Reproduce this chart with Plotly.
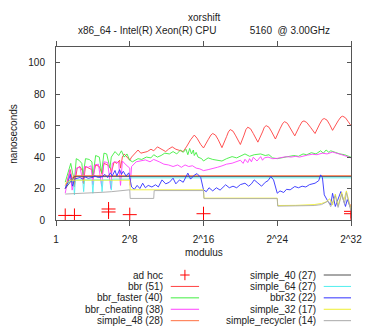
import plotly.graph_objects as go

# x values are log2(modulus): 0 -> 1, 32 -> 2^32
TICK_POS = [0, 8, 16, 24, 32]
TICK_TEXT = ["1", "2^8", "2^16", "2^24", "2^32"]
Y_TICKS = [0, 20, 40, 60, 80, 100]

adhoc_x = [1.0, 2.0, 5.7, 5.7, 8.0, 16.0, 32.0, 32.0]
adhoc_y = [2.9, 2.9, 7.0, 5.1, 3.4, 4.0, 5.5, 4.0]

bbr_x = [1.0, 1.3, 1.55, 1.8, 2.0, 2.3, 2.6, 2.9, 3.0, 3.2, 3.6, 3.9, 4.0, 4.3, 4.7, 5.0,
         5.2, 5.6, 5.9, 6.0, 6.3, 6.6, 6.9, 7.0, 7.2, 7.4, 7.7, 8.0, 8.2, 8.5, 8.9, 9.2,
         9.5, 9.9, 10.3, 10.6, 11.0, 11.4, 11.9, 12.2, 12.6, 13.0, 13.3, 13.8, 14.2, 14.6,
         15.0, 15.3, 15.7, 16.0, 16.5, 16.8, 17.0, 17.3, 17.6, 18.0, 18.5, 18.7, 18.9, 19.2,
         19.5, 20.0, 20.4, 20.6, 20.8, 21.1, 21.4, 21.9, 22.4, 22.6, 22.8, 23.1, 23.4, 23.8,
         24.3, 24.6, 24.8, 25.1, 25.4, 25.9, 26.4, 26.7, 26.9, 27.2, 27.6, 28.1, 28.6, 28.9,
         29.1, 29.4, 29.7, 30.0, 30.6, 30.9, 31.1, 31.4, 31.7, 32.0]
bbr_y = [20, 26, 32, 24, 22, 33, 34, 31, 25, 34, 33, 32, 27, 35, 34, 29,
         36, 35, 33, 30, 37, 36, 38, 33, 40, 42, 40, 38, 40, 42, 44.5, 42.5,
         43, 43.5, 45, 44, 46.5, 45, 43.5, 45, 46.5, 45, 44.5, 43.5, 47, 51,
         54, 52, 48, 45.8, 51, 54, 55, 54, 51, 46, 53, 56, 57.5, 56.5,
         53.5, 48, 54, 57.5, 59, 58, 55, 49.5, 56, 59, 60, 59, 56, 51.5,
         58, 61.5, 62.5, 61.5, 58.5, 53.5, 59.5, 62.5, 63, 62, 59, 55, 61, 64,
         64.5, 63.5, 60.5, 57, 63, 65.5, 66, 65, 62.5, 60]

faster_x = [1.0, 1.3, 1.6, 1.8, 2.0, 2.2, 2.5, 2.8, 2.95, 3.2, 3.6, 3.9, 4.0, 4.3, 4.7,
            4.95, 5.2, 5.5, 5.85, 6.0, 6.4, 6.8, 7.1, 7.4, 7.7, 8.0, 8.3, 8.9, 9.3, 9.8,
            10.3, 10.6, 11.0, 11.4, 11.8, 12.3, 12.7, 13.1, 13.5, 13.8, 14.1, 14.3, 14.5,
            14.7, 14.9, 15.0, 15.2, 15.4, 15.8, 16.0, 16.5, 17.0, 17.5, 18.0, 18.5, 19.1,
            19.6, 20.0, 20.5, 21.0, 21.5, 22.2, 22.7, 23.1, 23.5, 24.0, 24.5, 25.0, 25.5,
            25.8, 26.3, 26.8, 27.2, 27.7, 28.2, 28.7, 29.0, 29.3, 29.6, 29.8, 30.3, 30.8,
            31.3, 31.7, 32.0]
faster_y = [24, 30, 36, 30, 25, 39, 38, 36, 28.5, 39, 38.5, 37, 27, 41, 40,
            30, 42.5, 42, 33, 40, 43.5, 41, 44, 40, 42, 38, 37, 39, 38.5, 40,
            39.5, 41.5, 40, 41, 42.5, 42, 43.5, 42, 44.5, 43, 45, 41.5, 45.5,
            42, 44.5, 41, 43, 40, 39, 37.5, 39.5, 38.5, 38, 37.5, 39, 40.3,
            39.5, 40.5, 42, 40.5, 41.5, 42, 41, 41.5, 39.5, 39, 39.5, 40, 40.3,
            41, 40.5, 42, 41.5, 42.8, 42, 44, 42.5, 44.5, 43, 44, 43, 42,
            41.5, 40.5, 39.9]

cheat_x = [1.0, 1.3, 1.5, 1.75, 2.0, 2.2, 2.6, 2.95, 3.1, 3.5, 3.8, 4.0, 4.2, 4.6, 4.95,
           5.2, 5.6, 5.95, 6.1, 6.4, 6.8, 7.0, 7.2, 7.6, 8.0, 8.05, 8.2, 8.7, 9.2, 9.7,
           10.2, 10.6, 11.2, 11.7, 12.2, 12.7, 13.2, 13.6, 14.0, 14.4, 14.8, 15.2, 15.6,
           16.0, 16.5, 17.0, 17.5, 18.0, 18.5, 19.1, 19.6, 20.0, 20.3, 20.5, 20.8, 21.0,
           21.2, 21.4, 21.8, 22.2, 22.4, 22.6, 23.0, 23.5, 24.0, 24.5, 25.0, 25.5, 26.0,
           26.4, 26.8, 27.3, 27.8, 28.3, 28.9, 29.4, 30.0, 30.5, 31.0, 31.5, 32.0]
cheat_y = [17, 26, 32, 19, 25, 33, 33.5, 23.5, 34, 33.5, 34.5, 22.5, 35, 35.5, 21.5,
           37, 36.5, 20, 36, 37, 36.5, 22, 37.5, 35, 33, 22, 34, 37, 37.5, 38.2,
           37, 38.5, 37, 35.5, 35, 34, 35, 33.5, 35, 34, 34.5, 33, 32.5,
           31.4, 32, 33, 33.5, 34.4, 35.5, 36.1, 37, 38, 36, 38.6, 36.5, 39,
           37, 39.9, 37.5, 40.3, 38, 39.5, 40, 39, 39.2, 39.8, 40.3, 40, 40.5,
           40, 40.7, 41.3, 41.8, 41.5, 42.5, 42, 43.2, 42.5, 41.5, 40.5, 39.5]

s48_x = [1.0, 1.5, 1.95, 2.0, 2.05, 2.95, 3.0, 3.05, 32.0]
s48_y = [22, 25, 28.2, 21, 28.2, 28.2, 23, 28.2, 28.2]

s40_x = [1.0, 2.0, 32.0]
s40_y = [20, 27.6, 27.6]

s64_x = [1.0, 1.5, 1.9, 2.0, 2.1, 2.9, 3.0, 3.1, 3.9, 4.0, 4.1, 4.9, 5.0, 5.1, 5.9, 6.0,
         6.1, 7.9, 8.0, 32.0]
s64_y = [21, 25, 24.5, 16, 25.5, 25.5, 18, 25.5, 25.5, 17, 25.5, 25.5, 18, 25.5, 25.5, 19,
         26, 26, 26.8, 26.8]

bbr32_x = [1.0, 1.3, 1.55, 1.8, 2.0, 2.3, 2.6, 2.9, 3.1, 3.5, 3.9, 4.2, 4.6, 5.0, 5.3, 5.6,
           5.9, 6.1, 6.4, 6.6, 6.9, 7.1, 7.3, 7.6, 7.9, 8.0, 8.2, 8.5, 8.8, 9.1, 9.4, 9.7,
           10.0, 10.4, 10.8, 11.1, 11.5, 11.9, 12.3, 12.7, 13.0, 13.4, 13.8, 14.3, 14.6,
           15.0, 15.3, 15.7, 16.0, 16.3, 16.6, 17.0, 17.4, 17.8, 18.1, 18.4, 18.8, 19.2,
           19.6, 20.0, 20.5, 20.9, 21.2, 21.5, 21.9, 22.3, 22.7, 23.0, 23.3, 23.6, 24.0,
           24.3, 24.7, 25.0, 25.4, 25.9, 26.3, 26.7, 27.1, 27.5, 28.1, 28.5, 28.7, 28.9,
           29.1, 29.5, 29.8, 30.0, 30.3, 30.9, 31.4, 31.6, 32.0]
bbr32_y = [20, 24, 29, 21.5, 26, 26.5, 27, 26, 27.5, 26.5, 27, 28, 27, 27.5, 29, 27,
           30, 28, 31.5, 28, 32, 29, 31, 28, 30, 27, 21, 19.5, 22, 20, 23.4, 20.5,
           22, 21, 22.4, 21, 25.5, 23, 24, 26.6, 23, 25.5, 24, 29.8, 26,
           28.5, 29.5, 27, 19.2, 18, 20.5, 18.5, 20.5, 19, 21, 22.4, 20.5, 21.5,
           20.5, 22.5, 23.4, 21.5, 23, 25.5, 23.5, 21.5, 24, 25, 27.6, 25.5, 17,
           18.5, 17.5, 19.5, 19.2, 21.3, 20.5, 21.5, 21, 22.5, 23.4, 25, 28.7, 27,
           16, 11.8, 9.7, 17, 8.6, 18.1, 8.6, 13, 7]

s32_x = [1.0, 1.5, 8.0, 8.05, 16.0, 16.05, 24.0, 24.05, 26.0, 28.0, 28.8, 29.3, 29.7, 30.0,
         30.3, 30.6, 31.0, 31.2, 31.5, 32.0]
s32_y = [23, 25.3, 25.3, 19.2, 19.2, 13.9, 13.9, 9.2, 9.3, 9.8, 10.5, 11.5, 13.5, 9.5,
         16.5, 9.0, 17.5, 12, 18.5, 6.5]

recyc_x = [1.0, 2.0, 3.0, 4.0, 5.0, 6.0, 7.0, 8.0, 8.05, 10.6, 10.65, 16.0, 16.05, 24.0,
           24.05, 26.0, 28.0, 28.8, 29.5, 29.8, 30.3, 30.6, 31.0, 31.3, 31.5, 32.0]
recyc_y = [16.5, 16.7, 16.9, 17.2, 17.6, 18.0, 18.5, 19.2, 13.7, 13.7, 18.7, 18.7, 13.6, 13.6,
           8.8, 8.8, 9.2, 9.8, 12.0, 8.5, 15.5, 8.0, 16.5, 10.0, 17.5, 5.5]

# name, x, y, colour  (gnuplot drawing / legend order)
SERIES = [
    ("bbr (51)", bbr_x, bbr_y, "#ff4040"),
    ("bbr_faster (40)", faster_x, faster_y, "#40ee40"),
    ("bbr_cheating (38)", cheat_x, cheat_y, "#ff40ff"),
    ("simple_48 (28)", s48_x, s48_y, "#ff7040"),
    ("simple_40 (27)", s40_x, s40_y, "#505050"),
    ("simple_64 (27)", s64_x, s64_y, "#50eeee"),
    ("bbr32 (22)", bbr32_x, bbr32_y, "#3030ff"),
    ("simple_32 (17)", s32_x, s32_y, "#eeee30"),
    ("simple_recycler (14)", recyc_x, recyc_y, "#a8a8a8"),
]

FONT = "Liberation Sans, Arial, sans-serif"

fig = go.Figure()

fig.add_trace(go.Scatter(
    x=adhoc_x, y=adhoc_y, mode="markers", name="ad hoc",
    marker=dict(symbol="cross-thin", size=10, line=dict(color="#ff0000", width=1)),
    showlegend=False,
))
for name, xs, ys, color in SERIES:
    fig.add_trace(go.Scatter(
        x=xs, y=ys, mode="lines", name=name,
        line=dict(color=color, width=0.9),
        showlegend=False,
    ))

# --- gnuplot-style key: text right-aligned, sample to the right ---
legend_names = ["ad hoc"] + [s[0] for s in SERIES]
legend_colors = ["#ff0000"] + [s[3] for s in SERIES]
row_y = [-0.318, -0.384, -0.450, -0.516, -0.582]
col_text_x = [0.3696, 0.8878]
col_line_x = [(0.389, 0.485), (0.9076, 1.0)]

annotations = []
shapes = []
for i, (name, color) in enumerate(zip(legend_names, legend_colors)):
    col, row = divmod(i, 5)
    y = row_y[row]
    annotations.append(dict(
        x=col_text_x[col], y=y, xref="paper", yref="paper",
        text=name, showarrow=False, xanchor="right", yanchor="middle",
        font=dict(size=10, color="#222", family=FONT),
    ))
    x0, x1 = col_line_x[col]
    if name == "ad hoc":
        xm = (x0 + x1) / 2
        shapes.append(dict(type="line", xref="paper", yref="paper",
                           x0=xm - 0.016, x1=xm + 0.016, y0=y, y1=y,
                           line=dict(color=color, width=1)))
        shapes.append(dict(type="line", xref="paper", yref="paper",
                           x0=xm, x1=xm, y0=y - 0.03, y1=y + 0.03,
                           line=dict(color=color, width=1)))
    else:
        shapes.append(dict(type="line", xref="paper", yref="paper",
                           x0=x0, x1=x1, y0=y, y1=y,
                           line=dict(color=color, width=1)))

annotations += [
    dict(x=0.5, y=1.171, xref="paper", yref="paper", text="xorshift",
         showarrow=False, xanchor="center", yanchor="middle",
         font=dict(size=10, color="#222", family=FONT)),
    dict(x=0.5, y=1.096, xref="paper", yref="paper",
         text="x86_64 - Intel(R) Xeon(R) CPU" + "\u00a0" * 12 + "5160\u00a0\u00a0@ 3.00GHz",
         showarrow=False, xanchor="center", yanchor="middle",
         font=dict(size=10, color="#222", family=FONT)),
    dict(x=-0.145, y=0.5, xref="paper", yref="paper", text="nanoseconds",
         textangle=-90, showarrow=False, xanchor="center", yanchor="middle",
         font=dict(size=10, color="#222", family=FONT)),
    dict(x=0.5, y=-0.19, xref="paper", yref="paper", text="modulus",
         showarrow=False, xanchor="center", yanchor="middle",
         font=dict(size=10, color="#222", family=FONT)),
]

# the page body has an 8px margin, so the figure is 8px smaller and shifted
fig.update_layout(
    width=366, height=322,
    margin=dict(l=48, r=15, t=39, b=110),
    plot_bgcolor="white", paper_bgcolor="white",
    font=dict(family=FONT, size=10, color="#222"),
    showlegend=False,
    annotations=annotations,
    shapes=shapes,
    xaxis=dict(
        range=[0, 32], tickmode="array", tickvals=TICK_POS, ticktext=TICK_TEXT,
        ticks="outside", ticklen=5, tickcolor="#555", mirror="ticks",
        showline=True, linecolor="#555", linewidth=1,
        showgrid=False, zeroline=False, ticklabelstandoff=5,
    ),
    yaxis=dict(
        range=[0, 110], tickmode="array", tickvals=Y_TICKS,
        ticks="inside", ticklen=4, tickcolor="#555", mirror="ticks",
        showline=True, linecolor="#555", linewidth=1,
        showgrid=False, zeroline=False, ticklabelstandoff=8,
    ),
)

fig.write_html("out.html")
